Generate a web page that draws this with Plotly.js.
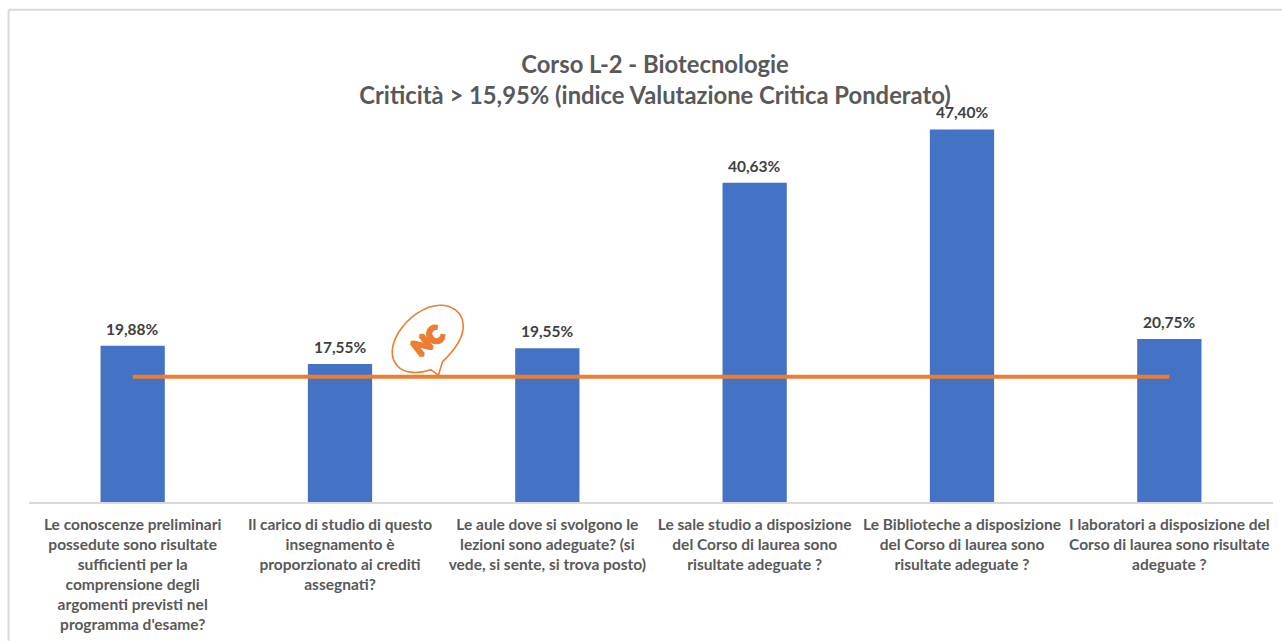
<!DOCTYPE html>
<html>
<head>
<meta charset="utf-8">
<script src="https://cdn.plot.ly/plotly-3.0.1.min.js"></script>
<style>html,body{margin:0;padding:0;background:#fff;overflow:hidden}#chart{width:1282px;height:641px}</style>
</head>
<body>
<div id="chart"></div>
<script>
const categories = [
  "Le conoscenze preliminari<br>possedute sono risultate<br>sufficienti per la<br>comprensione degli<br>argomenti previsti nel<br>programma d'esame?",
  "Il carico di studio di questo<br>insegnamento è<br>proporzionato ai crediti<br>assegnati?",
  "Le aule dove si svolgono le<br>lezioni sono adeguate? (si<br>vede, si sente, si trova posto)",
  "Le sale studio a disposizione<br>del Corso di laurea sono<br>risultate adeguate ?",
  "Le Biblioteche a disposizione<br>del Corso di laurea sono<br>risultate adeguate ?",
  "I laboratori a disposizione del<br>Corso di laurea sono risultate<br>adeguate ?"
];
const values = [19.88, 17.55, 19.55, 40.63, 47.40, 20.75];
const threshold = [15.95, 15.95, 15.95, 15.95, 15.95, 15.95];
const valueLabels = ["19,88%", "17,55%", "19,55%", "40,63%", "47,40%", "20,75%"];
const titleText = "Corso L-2 - Biotecnologie<br>Criticità > 15,95% (indice Valutazione Critica Ponderato)";

const W = 1282, H = 641;
const M = {l: 29.4, r: 9, t: 108.5, b: 139};
const px = x => (x - M.l) / (W - M.l - M.r);
const py = y => 1 - (y - M.t) / (H - M.t - M.b);
const P = (x, y) => px(x).toFixed(5) + "," + py(y).toFixed(5);
const bubble = "M" + P(438.7, 375) + " L" + P(442.7, 361.7) +
  " C" + P(456, 349) + " " + P(464, 337) + " " + P(463.5, 325) +
  " C" + P(463, 312) + " " + P(452, 304.5) + " " + P(440, 305) +
  " C" + P(424, 305.5) + " " + P(408, 318) + " " + P(399, 332) +
  " C" + P(391, 345) + " " + P(390, 358) + " " + P(398, 366) +
  " C" + P(405, 374) + " " + P(420, 373.5) + " " + P(431, 369.5) +
  " L" + P(438.7, 375);

const labelFont = {family: "Lato, sans-serif", size: 15.5, color: "#595959", weight: 700};

Plotly.newPlot("chart", [
  {type: "bar", x: categories, y: values, width: 0.31, marker: {color: "#4472C4"},
   cliponaxis: false, hoverinfo: "skip"},
  {type: "scatter", mode: "lines", x: categories, y: threshold,
   line: {color: "#ED7D31", width: 4}, cliponaxis: false, hoverinfo: "skip"}
], {
  width: W, height: H, showlegend: false,
  margin: M, paper_bgcolor: "#fff", plot_bgcolor: "#fff",
  font: {family: "Lato, sans-serif"},
  title: {text: titleText, font: {family: "Lato, sans-serif", size: 23.8, color: "#595959", weight: 700},
          x: 655 / W, xanchor: "center", y: 1 - 73 / H, yanchor: "top"},
  xaxis: {type: "category", categoryorder: "array", categoryarray: categories,
          showline: true, linecolor: "#D9D9D9", linewidth: 2, showgrid: false, zeroline: false,
          ticks: "", tickangle: 0, ticklabelstandoff: 7, tickfont: labelFont, automargin: false, fixedrange: true},
  yaxis: {range: [0, 50], visible: false, fixedrange: true},
  annotations: values.map((v, i) => ({
    x: categories[i], y: v, xref: "x", yref: "y", text: valueLabels[i], showarrow: false,
    yanchor: "bottom", yshift: 6,
    font: {family: "Lato, sans-serif", size: 15.5, color: "#404040", weight: 700}
  })).concat([{
    xref: "paper", yref: "paper", x: px(428), y: py(340), xanchor: "center", yanchor: "middle",
    text: "NC", showarrow: false, textangle: -38,
    font: {family: "Lato, sans-serif", size: 23, color: "#ED7D31", weight: 900,
           shadow: "1.5px 0 #ED7D31, -1.5px 0 #ED7D31, 0 1.5px #ED7D31, 0 -1.5px #ED7D31"}
  }]),
  shapes: [
    {type: "path", xref: "paper", yref: "paper", path: bubble, line: {color: "#ED7D31", width: 1.6}, fillcolor: "rgba(0,0,0,0)"},
    {type: "line", xref: "paper", yref: "paper", x0: px(9), x1: px(9), y0: py(9), y1: py(641), line: {color: "#D9D9D9", width: 2}},
    {type: "line", xref: "paper", yref: "paper", x0: px(9), x1: px(1282), y0: py(9), y1: py(9), line: {color: "#D9D9D9", width: 2}}
  ]
}, {displayModeBar: false, staticPlot: true});
</script>
</body>
</html>
